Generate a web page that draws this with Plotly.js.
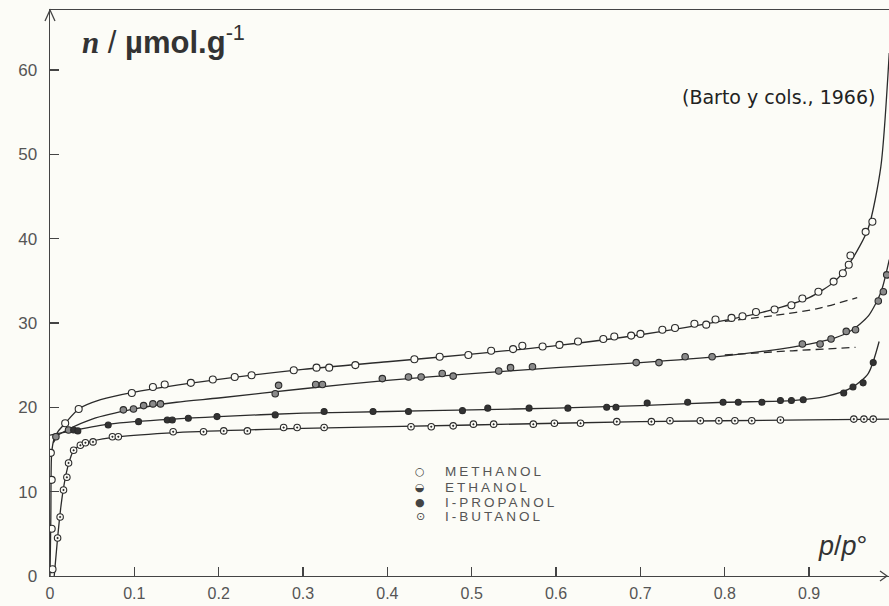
<!DOCTYPE html>
<html>
<head>
<meta charset="utf-8">
<script src="https://cdn.plot.ly/plotly-3.0.1.min.js"></script>
<style>
html,body{margin:0;padding:0;background:#fcfcf7;}
#chart{width:889px;height:606px;}
</style>
</head>
<body>
<div id="chart"></div>
<script>
// ---- data ----
// Methanol (open circles)
var methX = [0.003,0.002,0.002,0.001,0.018,0.034,0.097,0.122,0.136,0.167,0.193,0.219,0.239,0.289,0.316,0.331,0.362,0.432,0.462,0.496,0.523,0.549,0.560,0.584,0.604,0.626,0.656,0.669,0.689,0.700,0.726,0.741,0.764,0.778,0.789,0.808,0.821,0.837,0.859,0.879,0.892,0.911,0.929,0.940,0.947,0.949,0.967,0.975];
var methY = [0.8,5.6,11.4,14.6,18.1,19.8,21.7,22.4,22.7,22.9,23.3,23.6,23.8,24.4,24.7,24.7,25.0,25.7,26.0,26.2,26.7,26.9,27.3,27.2,27.4,27.8,28.1,28.4,28.5,28.7,29.2,29.4,29.9,29.8,30.4,30.6,30.8,31.3,31.6,32.1,32.9,33.7,34.9,35.9,36.9,38.0,40.8,42.0];
var methCurveX = [0.0,0.001,0.002,0.005,0.01,0.018,0.034,0.06,0.1,0.2,0.3,0.4,0.5,0.6,0.7,0.8,0.85,0.9,0.93,0.95,0.97,0.985,0.995];
var methCurveY = [0,7,14.6,16.3,17.2,18.1,19.8,20.9,21.8,23.3,24.5,25.4,26.3,27.3,28.6,30.3,31.4,33.0,34.9,37.4,41.2,48.5,62];
var methDashX = [0.80,0.86,0.91,0.957];
var methDashY = [30.2,30.9,31.7,33.0];

// Ethanol (half-filled circles)
var ethX = [0.007,0.022,0.087,0.099,0.111,0.122,0.131,0.267,0.271,0.315,0.323,0.394,0.425,0.440,0.465,0.478,0.532,0.546,0.572,0.695,0.722,0.753,0.785,0.892,0.913,0.926,0.944,0.955,0.982,0.988,0.992];
var ethY = [16.5,17.3,19.7,19.8,20.2,20.4,20.4,21.6,22.6,22.7,22.7,23.4,23.6,23.6,24.0,23.7,24.3,24.7,24.8,25.3,25.3,26.0,26.0,27.5,27.5,28.1,29.0,29.2,32.6,33.7,35.7];
var ethCurveX = [0.004,0.01,0.022,0.05,0.1,0.15,0.2,0.3,0.4,0.5,0.6,0.7,0.8,0.85,0.9,0.93,0.95,0.97,0.985,0.995];
var ethCurveY = [15.8,16.7,17.4,18.6,19.8,20.6,21.1,22.2,23.2,24.0,24.7,25.3,26.1,26.7,27.5,28.2,29.1,30.8,33.6,37.5];
var ethDashX = [0.80,0.88,0.955];
var ethDashY = [26.2,26.7,27.1];

// 1-Propanol (filled circles)
var propX = [0.028,0.033,0.069,0.105,0.139,0.145,0.164,0.198,0.267,0.325,0.383,0.425,0.489,0.519,0.568,0.614,0.660,0.671,0.708,0.756,0.798,0.816,0.844,0.866,0.879,0.893,0.941,0.952,0.964,0.976];
var propY = [17.3,17.2,17.9,18.3,18.5,18.5,18.7,18.9,19.1,19.5,19.5,19.5,19.6,19.9,19.9,19.9,20.0,20.0,20.5,20.6,20.6,20.6,20.6,20.8,20.8,20.9,21.7,22.4,22.9,25.3];
var propCurveX = [0.0,0.01,0.03,0.07,0.1,0.2,0.3,0.4,0.5,0.6,0.7,0.8,0.88,0.92,0.95,0.97,0.983];
var propCurveY = [16.7,16.9,17.3,18.0,18.3,18.9,19.3,19.5,19.7,19.9,20.2,20.6,20.8,21.3,22.3,24.0,27.8];

// 1-Butanol (dotted circles)
var butX = [0.009,0.012,0.016,0.020,0.022,0.028,0.036,0.042,0.051,0.074,0.081,0.146,0.182,0.206,0.234,0.277,0.293,0.325,0.428,0.452,0.478,0.502,0.526,0.573,0.598,0.629,0.672,0.713,0.735,0.771,0.793,0.812,0.832,0.866,0.953,0.965,0.976];
var butY = [4.5,7.0,10.2,11.7,13.4,14.9,15.5,15.8,15.9,16.5,16.5,17.1,17.1,17.2,17.2,17.6,17.6,17.6,17.7,17.7,17.8,18.0,18.0,18.0,18.1,18.1,18.3,18.3,18.4,18.4,18.4,18.4,18.4,18.5,18.6,18.6,18.6];
var butCurveX = [0.005,0.009,0.013,0.017,0.022,0.028,0.036,0.05,0.08,0.15,0.3,0.5,0.7,0.9,0.995];
var butCurveY = [0,4.5,8.3,11.0,13.3,14.9,15.5,16.0,16.5,17.0,17.5,17.9,18.3,18.5,18.6];

var legendNames = ['METHANOL','ETHANOL','I-PROPANOL','I-BUTANOL'];
var legendSymbols = ['\u25CB','\u25D2','\u25CF','\u2299'];

// ---- styles ----
var ink = '#2b2b2b';
var bg = '#fcfcf7';
function curve(x,y,dash){
  return {x:x,y:y,type:'scatter',mode:'lines',line:{color:ink,width:1.3,shape:'spline',smoothing:0.7,dash:dash||'solid'},hoverinfo:'skip',showlegend:false};
}
function pts(x,y,name,symbol,fill,size){
  return {x:x,y:y,name:name,type:'scatter',mode:'markers',showlegend:false,
    marker:{symbol:symbol,size:size||7,color:fill,line:{color:ink,width:1.1}}};
}

var traces = [
  curve(methCurveX,methCurveY), curve(methDashX,methDashY,'8px,5px'),
  curve(ethCurveX,ethCurveY), curve(ethDashX,ethDashY,'8px,5px'),
  curve(propCurveX,propCurveY),
  curve(butCurveX,butCurveY),
  pts(methX,methY,'Methanol','circle',bg,7),
  pts(ethX,ethY,'Ethanol','circle','#8a8a8a',6.5),
  pts(propX,propY,'1-Propanol','circle','#333',6),
  pts(butX,butY,'1-Butanol','circle-dot',bg,6.5)
];

var tickFont = {family:'Liberation Sans, Arial, sans-serif', size:17, color:'#555'};
var annotations = [
  {xref:'paper',yref:'paper',x:0.036,y:0.947,xanchor:'left',yanchor:'middle',showarrow:false,
   text:'<span style="font-family:Liberation Serif;font-style:italic;font-weight:bold">n</span> / <b>µmol.g</b><sup>-1</sup>',
   font:{family:'Liberation Sans, Arial, sans-serif',size:31,color:'#333'}},
  {xref:'paper',yref:'paper',x:0.9857,y:0.846,xanchor:'right',yanchor:'middle',showarrow:false,
   text:'(Barto y cols., 1966)',font:{family:'DejaVu Sans, sans-serif',size:19,color:'#222'}},
  {xref:'paper',yref:'paper',x:0.944,y:0.053,xanchor:'center',yanchor:'middle',showarrow:false,
   text:'<i>p</i>/<i>p</i>°',font:{family:'Liberation Sans, Arial, sans-serif',size:27,color:'#333'}}
];
var legY = [471,487,502,516];
for (var i=0;i<legendNames.length;i++){
  var py = (576-legY[i])/566;
  annotations.push({xref:'paper',yref:'paper',x:(420-50)/839,y:py,xanchor:'center',yanchor:'middle',showarrow:false,
    text:legendSymbols[i],font:{family:'DejaVu Sans, sans-serif',size:11,color:'#444'}});
  annotations.push({xref:'paper',yref:'paper',x:(443-50)/839,y:py,xanchor:'left',yanchor:'middle',showarrow:false,
    text:'<span style="letter-spacing:3px">'+legendNames[i]+'</span>',font:{family:'Liberation Sans, Arial, sans-serif',size:13.5,color:'#555'}});
}

// axis arrowheads (open chevrons), sized in pixels
var shapes = [
  {type:'path',xref:'paper',yref:'paper',xsizemode:'pixel',ysizemode:'pixel',xanchor:0,yanchor:1,
   path:'M -5,-11 L 0,0 L 5,-11',line:{color:'#444',width:1.3}},
  {type:'path',xref:'paper',yref:'paper',xsizemode:'pixel',ysizemode:'pixel',xanchor:1,yanchor:0,
   path:'M -9,5 L -2,0 L -9,-5',line:{color:'#444',width:1.3}}
];

var layout = {
  width:889,height:606,
  paper_bgcolor:bg, plot_bgcolor:bg,
  margin:{l:50,r:0,t:10,b:30,pad:0},
  showlegend:false,
  xaxis:{range:[0,0.9947],tick0:0,dtick:0.1,ticks:'inside',ticklen:9,tickwidth:1.3,tickcolor:'#444',
    showline:true,linecolor:'#444',linewidth:1.4,mirror:true,showgrid:false,zeroline:false,
    tickfont:{family:'Liberation Sans, Arial, sans-serif', size:16, color:'#555'},ticklabelstandoff:2},
  yaxis:{range:[0,67.1],tick0:0,dtick:10,ticks:'inside',ticklen:9,tickwidth:1.3,tickcolor:'#444',
    showline:true,linecolor:'#444',linewidth:1.4,showgrid:false,zeroline:false,
    tickfont:tickFont,ticklabelstandoff:8},
  annotations:annotations,
  shapes:shapes
};
Plotly.newPlot('chart',traces,layout,{displayModeBar:false,staticPlot:true});
</script>
</body>
</html>
